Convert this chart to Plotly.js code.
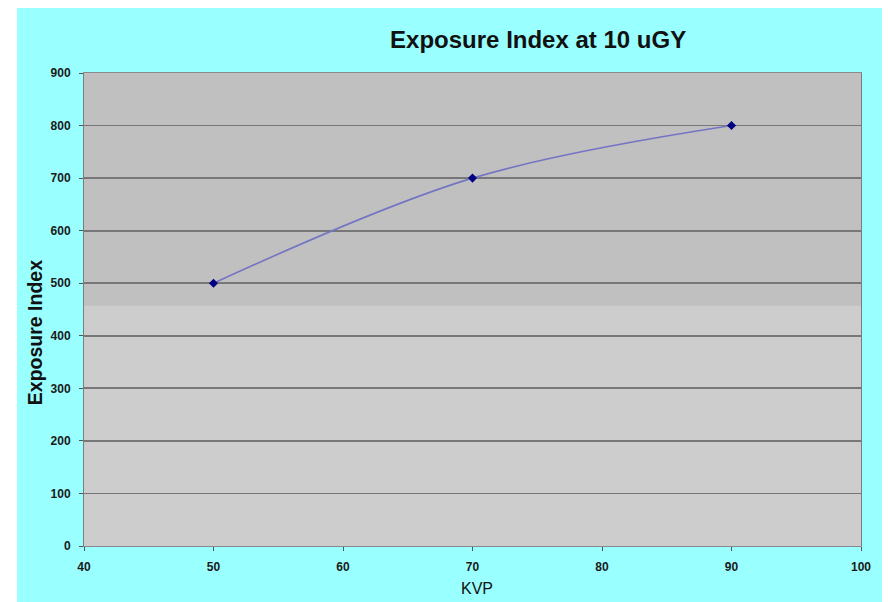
<!DOCTYPE html>
<html>
<head>
<meta charset="utf-8">
<script src="https://cdn.plot.ly/plotly-3.0.1.min.js"></script>
<style>
  html, body { margin: 0; padding: 0; background: #ffffff; }
  #chart { position: absolute; left: 17px; top: 8px; width: 865px; height: 594px; }
</style>
</head>
<body>
<div id="chart"></div>
<script>
// Exposure index measured at 10 uGY for each tube voltage
const kvp = [50, 70, 90];
const exposureIndex = [500, 700, 800];

const xTicks = [40, 50, 60, 70, 80, 90, 100];
const yTicks = [0, 100, 200, 300, 400, 500, 600, 700, 800, 900];

// Upper shaded band of the plot area
const bandFrom = 457;
const bandTo = 900;

const tickFont = { family: 'Liberation Sans, Arial, sans-serif', size: 12, color: '#1a1a1a', weight: 'bold' };

const trace = {
  x: kvp,
  y: exposureIndex,
  type: 'scatter',
  mode: 'lines+markers',
  line: { shape: 'spline', smoothing: 1, color: '#7474c4', width: 1.6 },
  marker: { symbol: 'diamond', size: 7, color: '#000080' },
  hoverinfo: 'x+y'
};

const layout = {
  width: 865,
  height: 594,
  paper_bgcolor: '#99ffff',
  plot_bgcolor: '#cdcdcd',
  showlegend: false,
  margin: { l: 67, r: 21, t: 65, b: 56 },
  title: {
    text: 'Exposure Index at 10 uGY',
    font: { family: 'Liberation Sans, Arial, sans-serif', size: 24, color: '#111111', weight: 'bold' },
    xref: 'container', x: 0.6025, xanchor: 'center',
    yref: 'container', y: 0.946, yanchor: 'middle'
  },
  xaxis: {
    range: [40, 100],
    tickvals: xTicks,
    ticktext: xTicks.map(String),
    ticks: 'outside', ticklen: 4, tickcolor: '#555555', tickwidth: 1,
    showgrid: false, zeroline: false,
    showline: true, linecolor: '#8a8a8a', linewidth: 1, mirror: true,
    tickfont: tickFont,
    ticklabelstandoff: 6
  },
  yaxis: {
    range: [0, 900],
    tickvals: yTicks,
    ticktext: yTicks.map(String),
    ticks: 'outside', ticklen: 4, tickcolor: '#555555', tickwidth: 1,
    showgrid: true, gridcolor: '#777777', gridwidth: 1.8,
    zeroline: false,
    showline: true, linecolor: '#7c7c7c', linewidth: 1, mirror: true,
    tickfont: tickFont,
    ticklabelstandoff: 6
  },
  shapes: [{
    type: 'rect', layer: 'below',
    xref: 'paper', x0: 0, x1: 1,
    yref: 'y', y0: bandFrom, y1: bandTo,
    fillcolor: '#c0c0c0', line: { width: 0 }
  }],
  annotations: [
    {
      text: 'Exposure Index',
      textangle: -90,
      font: { family: 'Liberation Sans, Arial, sans-serif', size: 19.5, color: '#111111', weight: 'bold' },
      xref: 'paper', x: -0.063, xanchor: 'center',
      yref: 'paper', y: 0.45, yanchor: 'middle',
      showarrow: false
    },
    {
      text: 'KVP',
      font: { family: 'Liberation Sans, Arial, sans-serif', size: 16, color: '#111111' },
      xref: 'paper', x: 0.5057, xanchor: 'center',
      yref: 'paper', y: -0.089, yanchor: 'middle',
      showarrow: false
    }
  ]
};

Plotly.newPlot('chart', [trace], layout, { displayModeBar: false, staticPlot: true });
</script>
</body>
</html>
